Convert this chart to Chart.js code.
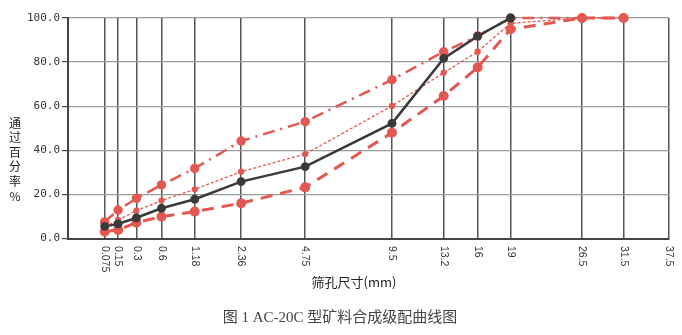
<!DOCTYPE html>
<html>
<head>
<meta charset="utf-8">
<script src="https://cdn.jsdelivr.net/npm/chart.js@4.4.1/dist/chart.umd.min.js"></script>
<style>
  html, body { margin: 0; padding: 0; background: #fff; }
  #wrap { width: 682px; height: 335px; }
</style>
</head>
<body>
<div id="wrap"><canvas id="gradChart" width="682" height="335"></canvas></div>
<script>
// sieve sizes (mm) and passing percentages
var sieves = [0.075, 0.15, 0.3, 0.6, 1.18, 2.36, 4.75, 9.5, 13.2, 16, 19, 26.5, 31.5];
var tickLabels = ['0.075', '0.15', '0.3', '0.6', '1.18', '2.36', '4.75', '9.5', '13.2', '16', '19', '26.5', '31.5', '37.5'];
var synthetic = [5.5, 6.6, 9.4, 13.7, 17.8, 25.8, 32.6, 52.2, 81.7, 91.8, 100, null, null];
var upperLimit = [7.5, 12.9, 18.2, 24.3, 31.8, 44.2, 53.0, 72.0, 84.7, 91.8, 100, 100, 100];
var lowerLimit = [3.1, 3.9, 7.2, 9.9, 12.2, 16.0, 23.2, 48.0, 64.6, 77.6, 94.9, 100, 100];
var median = [5.3, 8.4, 12.6, 17.2, 22.3, 30.3, 38.3, 60.1, 75.2, 84.7, 97.6, 100, 100];
var yTicks = [0, 20, 40, 60, 80, 100];

var P = 0.45; // 0.45 power gradation scale
function px(d) { return Math.pow(d, P); }
function pts(arr) {
  return arr.map(function(v, i) { return { x: px(sieves[i]), y: v }; });
}

var red = 'rgb(228, 88, 82)';

// extra texts: rotated sieve labels, axis titles, caption
var textPlugin = {
  id: 'texts',
  afterDraw: function(chart) {
    var ctx = chart.ctx;
    var xs = chart.scales.x;
    ctx.save();
    ctx.fillStyle = '#333';
    ctx.font = '10.5px "Liberation Sans"';
    ctx.textAlign = 'left';
    ctx.textBaseline = 'middle';
    tickLabels.forEach(function(t) {
      var x = xs.getPixelForValue(px(parseFloat(t)));
      ctx.save();
      ctx.translate(x, 246);
      ctx.rotate(Math.PI / 2);
      ctx.fillText(t, 0, 0);
      ctx.restore();
    });

    ctx.font = '12px "Noto Sans CJK SC"';
    ctx.fillStyle = '#222';
    ctx.textAlign = 'center';
    var chars = ['通', '过', '百', '分', '率', '%'];
    chars.forEach(function(c, i) {
      ctx.fillText(c, 15, 123 + i * 14.6);
    });

    ctx.font = '13px "Noto Sans CJK SC"';
    ctx.fillText('筛孔尺寸(mm)', 354, 282);

    ctx.fillStyle = '#444';
    ctx.font = '15px "Liberation Serif", "Noto Sans CJK SC"';
    ctx.fillText('图 1 AC-20C 型矿料合成级配曲线图', 340, 318);
    ctx.restore();
  }
};

var chart = new Chart(document.getElementById('gradChart'), {
  type: 'line',
  data: {
    datasets: [
      {
        label: '合成级配',
        data: pts(synthetic),
        borderColor: '#3a3a3a',
        backgroundColor: '#3a3a3a',
        borderWidth: 2.5,
        pointRadius: 3.2,
        order: 1
      },
      {
        label: '上限',
        data: pts(upperLimit),
        borderColor: red,
        backgroundColor: red,
        borderWidth: 2.5,
        borderDash: [12, 6, 2, 6],
        pointRadius: 3.5,
        order: 2
      },
      {
        label: '中值',
        data: pts(median),
        borderColor: red,
        backgroundColor: red,
        borderWidth: 1.3,
        borderDash: [3, 2],
        pointRadius: 2.5,
        order: 3
      },
      {
        label: '下限',
        data: pts(lowerLimit),
        borderColor: red,
        backgroundColor: red,
        borderWidth: 3,
        borderDash: [12, 8],
        pointRadius: 3.5,
        order: 4
      }
    ]
  },
  options: {
    responsive: false,
    animation: false,
    clip: false,
    layout: { padding: { left: 0, top: 18, right: 13, bottom: 0 } },
    plugins: { legend: { display: false }, tooltip: { enabled: false } },
    elements: { line: { tension: 0 }, point: { borderWidth: 0 } },
    scales: {
      x: {
        type: 'linear',
        min: 0,
        max: px(37.5),
        afterBuildTicks: function(s) {
          s.ticks = tickLabels.map(function(t) { return { value: px(parseFloat(t)) }; });
        },
        afterFit: function(s) { s.height = 335 - 238.5; },
        ticks: { display: false },
        grid: { color: '#555', lineWidth: 1.5, drawTicks: false },
        border: { color: '#444', width: 2 }
      },
      y: {
        min: 0,
        max: 100,
        afterBuildTicks: function(s) {
          s.ticks = yTicks.map(function(v) { return { value: v }; });
        },
        afterFit: function(s) { s.width = 68; },
        ticks: {
          color: '#333',
          font: { family: '"DejaVu Sans Mono"', size: 11 },
          padding: 2,
          callback: function(v) { return v.toFixed(1); }
        },
        grid: { color: '#9a9a9a', lineWidth: 1.2, tickLength: 6, tickColor: '#444' },
        border: { color: '#444', width: 2 }
      }
    }
  },
  plugins: [textPlugin]
});
</script>
</body>
</html>
